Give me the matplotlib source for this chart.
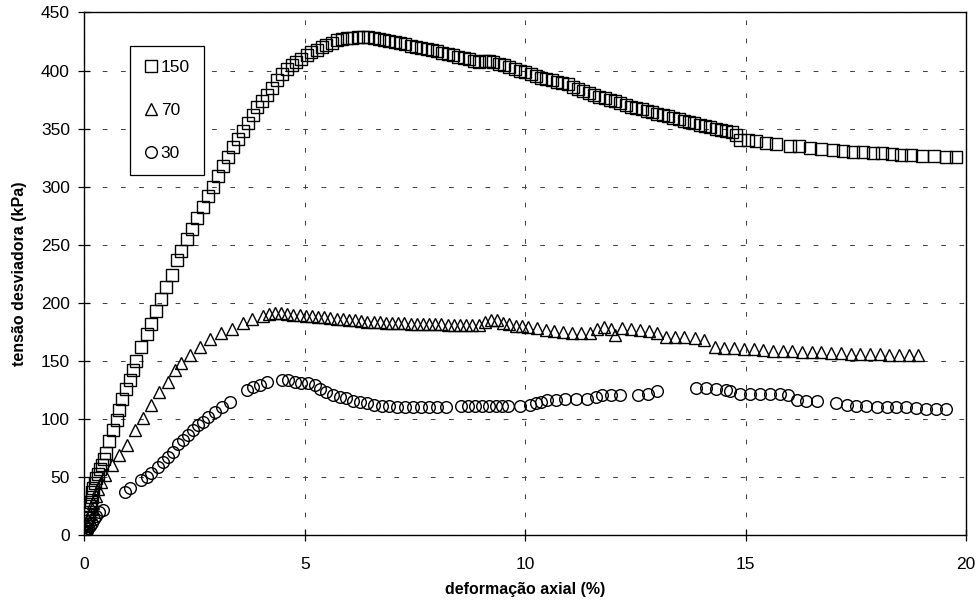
import matplotlib
matplotlib.use("Agg")
import matplotlib.pyplot as plt

# ---- data ----
x150 = [0.00, 0.02, 0.04, 0.06, 0.08, 0.10, 0.12, 0.14, 0.16, 0.18, 0.20, 0.23, 0.26, 0.30, 0.35,
        0.39, 0.44, 0.49, 0.56, 0.64, 0.73, 0.79, 0.86, 0.95, 1.03, 1.10, 1.17, 1.29, 1.41, 1.51,
        1.62, 1.73, 1.85, 1.98, 2.11, 2.20, 2.32, 2.45, 2.56, 2.69, 2.81, 2.92, 3.04, 3.15, 3.26,
        3.37, 3.49, 3.60, 3.71, 3.83, 3.92, 4.02, 4.13, 4.25, 4.36, 4.47, 4.59, 4.70, 4.81, 4.92,
        5.04, 5.15, 5.27, 5.38, 5.49, 5.61, 5.72, 5.84, 5.96, 6.08, 6.20, 6.32, 6.44, 6.56, 6.68,
        6.80, 6.92, 7.04, 7.16, 7.28, 7.40, 7.52, 7.64, 7.76, 7.88, 8.00, 8.12, 8.24, 8.36, 8.48,
        8.60, 8.72, 8.84, 8.96, 9.08, 9.18, 9.28, 9.40, 9.52, 9.64, 9.76, 9.88, 10.00, 10.12, 10.24,
        10.36, 10.48, 10.60, 10.72, 10.84, 10.96, 11.08, 11.20, 11.32, 11.44, 11.56, 11.68, 11.80,
        11.92, 12.04, 12.16, 12.28, 12.40, 12.52, 12.64, 12.76, 12.88, 13.00, 13.12, 13.24, 13.36,
        13.48, 13.60, 13.72, 13.84, 13.96, 14.08, 14.20, 14.32, 14.44, 14.56, 14.68, 14.79, 14.87,
        15.05, 15.24, 15.47, 15.70, 16.00, 16.22, 16.45, 16.72, 16.98, 17.20, 17.43, 17.66, 17.89,
        18.10, 18.33, 18.52, 18.75, 19.00, 19.28, 19.55, 19.78]
y150 = [0, 4, 8, 12, 16, 20, 25, 29, 33, 37, 41, 45, 49, 53, 57,
        61, 66, 71, 81, 91, 99, 108, 117, 126, 134, 142, 150, 162, 173, 182,
        193, 203, 214, 224, 237, 245, 255, 264, 273, 283, 292, 300, 309, 318, 326,
        334, 341, 348, 355, 362, 369, 374, 379, 385, 392, 397, 401, 405, 407, 410,
        413, 416, 418, 420, 422, 424, 426, 427, 428, 428, 428.5, 428.5, 428.5, 428, 427.5,
        426.5, 425.5, 424.5, 423.5, 422.5, 421.5, 420.5, 419.5, 418.5, 417.5, 416.5, 415.5, 414.5, 413, 411.5,
        410.5, 409.5, 408.5, 407.5, 408, 408.5, 407.5, 406, 404.5, 403, 401.5, 400, 398.5, 397, 395.5,
        394, 393, 392, 390.5, 389.5, 388, 386, 384, 382.5, 381, 379, 377.5, 376.5,
        375, 373.5, 372, 370.5, 369, 368, 366.5, 365.5, 364, 363, 361.5, 360.5, 359,
        358, 357, 355.5, 354.5, 353.5, 352.5, 351.5, 350, 349, 348, 347.5, 344.6, 340.4,
        340.4, 339, 337.5, 337, 335.3, 334.7, 333.3, 332.4, 331.3, 330.4, 330.2, 329.6, 329,
        329, 328.4, 327.6, 327.6, 326.6, 326.6, 326, 326]

x70 = [0.00, 0.03, 0.06, 0.09, 0.12, 0.16, 0.20, 0.25, 0.31, 0.38, 0.47, 0.62, 0.79, 0.96, 1.15,
       1.33, 1.50, 1.70, 1.90, 2.05, 2.20, 2.39, 2.62, 2.85, 3.09, 3.34, 3.59, 3.81, 4.04, 4.18,
       4.32, 4.46, 4.60, 4.74, 4.88, 5.02, 5.16, 5.30, 5.44, 5.58, 5.72, 5.86, 6.00, 6.14, 6.28,
       6.42, 6.56, 6.70, 6.84, 6.98, 7.12, 7.26, 7.40, 7.54, 7.68, 7.82, 7.96, 8.10, 8.24, 8.38,
       8.52, 8.66, 8.80, 8.94, 9.08, 9.22, 9.36, 9.50, 9.64, 9.78, 9.92, 10.06, 10.26, 10.46, 10.66,
       10.86, 11.06, 11.26, 11.46, 11.62, 11.78, 11.94, 12.04, 12.20, 12.40, 12.60, 12.80, 13.00,
       13.20, 13.40, 13.60, 13.85, 14.05, 14.30, 14.52, 14.74, 14.96, 15.18, 15.40, 15.62, 15.84,
       16.06, 16.28, 16.50, 16.72, 16.94, 17.16, 17.38, 17.60, 17.82, 18.04, 18.26, 18.48, 18.70, 18.92]
y70 = [0, 4, 9, 13, 18, 23, 28, 34, 40, 46, 52, 61, 69, 78, 91,
       101, 112, 123, 132, 142, 148, 155, 162, 169, 174, 178, 182.5, 186, 189, 190.5,
       191, 191, 190.5, 190, 189.5, 189, 188.5, 188, 187.5, 187, 186.5, 186, 185.5, 185, 184.5,
       184, 184, 183.5, 183, 183, 182.5, 182.5, 182, 182, 182, 181.5, 181.5, 181.5, 181, 181,
       181, 181, 181, 181, 183.5, 185.5, 185.5, 183, 181.5, 180.5, 180, 179.5, 178.5, 177, 176,
       175, 174.5, 174, 174, 177.5, 179, 178, 172.5, 178.5, 177.5, 177, 176, 174,
       171, 171, 170.5, 169.5, 168.5, 162.5, 161, 161, 160.5, 160, 159.5, 159, 158.5,
       158.5, 158, 157.5, 157.5, 157, 157, 156.5, 156.5, 156, 156, 155.5, 155.5, 155, 155]

x30 = [0.00, 0.03, 0.06, 0.09, 0.12, 0.16, 0.21, 0.27, 0.33, 0.42, 0.92, 1.03, 1.29, 1.41, 1.52,
       1.67, 1.79, 1.90, 2.01, 2.12, 2.24, 2.35, 2.47, 2.58, 2.69, 2.81, 2.96, 3.11, 3.30, 3.68,
       3.83, 3.98, 4.13, 4.47, 4.62, 4.77, 4.92, 5.08, 5.23, 5.34, 5.49, 5.64, 5.80, 5.94, 6.10,
       6.25, 6.40, 6.58, 6.75, 6.92, 7.10, 7.28, 7.46, 7.64, 7.82, 8.00, 8.20, 8.55, 8.70, 8.86,
       9.02, 9.18, 9.34, 9.48, 9.62, 9.88, 10.10, 10.25, 10.35, 10.50, 10.70, 10.90, 11.15, 11.40,
       11.60, 11.75, 11.95, 12.14, 12.56, 12.78, 13.00, 13.88, 14.10, 14.33, 14.56, 14.64, 14.87,
       15.10, 15.32, 15.55, 15.78, 15.97, 16.16, 16.38, 16.61, 17.06, 17.29, 17.50, 17.74, 17.97,
       18.20, 18.42, 18.65, 18.87, 19.10, 19.33, 19.55]
y30 = [0, 2, 4, 6, 8, 11, 14, 17, 20, 22, 37.6, 40.8, 47.7, 50.5, 53.4,
       59, 63.4, 67.7, 72, 79, 82, 86.4, 90.7, 95, 97.9, 102, 106.5, 110.8, 115, 125,
       128, 129.5, 132.4, 133.8, 133.8, 132.4, 131.5, 131, 129.5, 125.8, 123.8, 121, 119.5, 118, 116,
       114.5, 114, 112.4, 111.5, 111, 110.5, 110.5, 110.5, 110.5, 110.5, 110.5, 110.8, 111, 111, 111,
       111, 111, 111, 111.2, 111.4, 111.5, 112, 113.5, 115, 116.5, 116.5, 117.5, 117.5, 117.5,
       119.5, 120.5, 120.5, 120.5, 121, 122, 124, 126.7, 126.7, 125.8, 125.2, 124, 122,
       122, 122, 122, 122, 121, 116.6, 116, 116, 113.7, 112.3, 111.4, 111.4, 110.8,
       110.8, 110.2, 110.2, 109.4, 108.5, 108.5, 108.5]

series_labels = ["150", "70", "30"]
x_ticks = [0, 5, 10, 15, 20]
y_ticks = [0, 50, 100, 150, 200, 250, 300, 350, 400, 450]
x_label = "deformação axial (%)"
y_label = "tensão desviadora (kPa)"

# ---- plot ----
plt.rcParams['font.family'] = ['Liberation Sans', 'DejaVu Sans']
fig = plt.figure(figsize=(9.79, 6.06), dpi=100)
ax = fig.add_axes([0.0863, 0.1165, 0.9004, 0.863])

mk = dict(linestyle='none', markerfacecolor='none', markeredgecolor='black', markeredgewidth=1.0)
ax.plot(x150, y150, marker='s', markersize=8.0, label=series_labels[0], **mk)
ax.plot(x70, y70, marker='^', markersize=9.2, label=series_labels[1], **mk)
ax.plot(x30, y30, marker='o', markersize=8.4, label=series_labels[2], **mk)

ax.set_xlim(0, 20)
ax.set_ylim(0, 450)
ax.set_xticks(x_ticks)
ax.set_yticks(y_ticks)
ax.tick_params(axis='both', direction='inout', length=9, width=0.9, labelsize=12.5,
               top=False, right=False)
ax.tick_params(axis='x', pad=11)
ax.tick_params(axis='y', pad=6)
ax.grid(True, color='#444444', linewidth=0.75, linestyle=(0, (4.5, 13)))
ax.set_axisbelow(True)
for s in ax.spines.values():
    s.set_linewidth(1.0)
    s.set_color('black')

ax.set_xlabel(x_label, fontsize=11.5, fontweight='bold', labelpad=7)
ax.set_ylabel(y_label, fontsize=11.5, fontweight='bold', labelpad=10)

leg = ax.legend(loc='upper left', bbox_to_anchor=(0.052, 0.936), borderaxespad=0,
                fontsize=12.5, frameon=True, fancybox=False, framealpha=1,
                edgecolor='black', labelspacing=1.6, handlelength=0.8, handletextpad=0.15,
                borderpad=0.8, markerscale=1.0)
leg.get_frame().set_linewidth(0.9)

fig.savefig("out.png", dpi=100)
